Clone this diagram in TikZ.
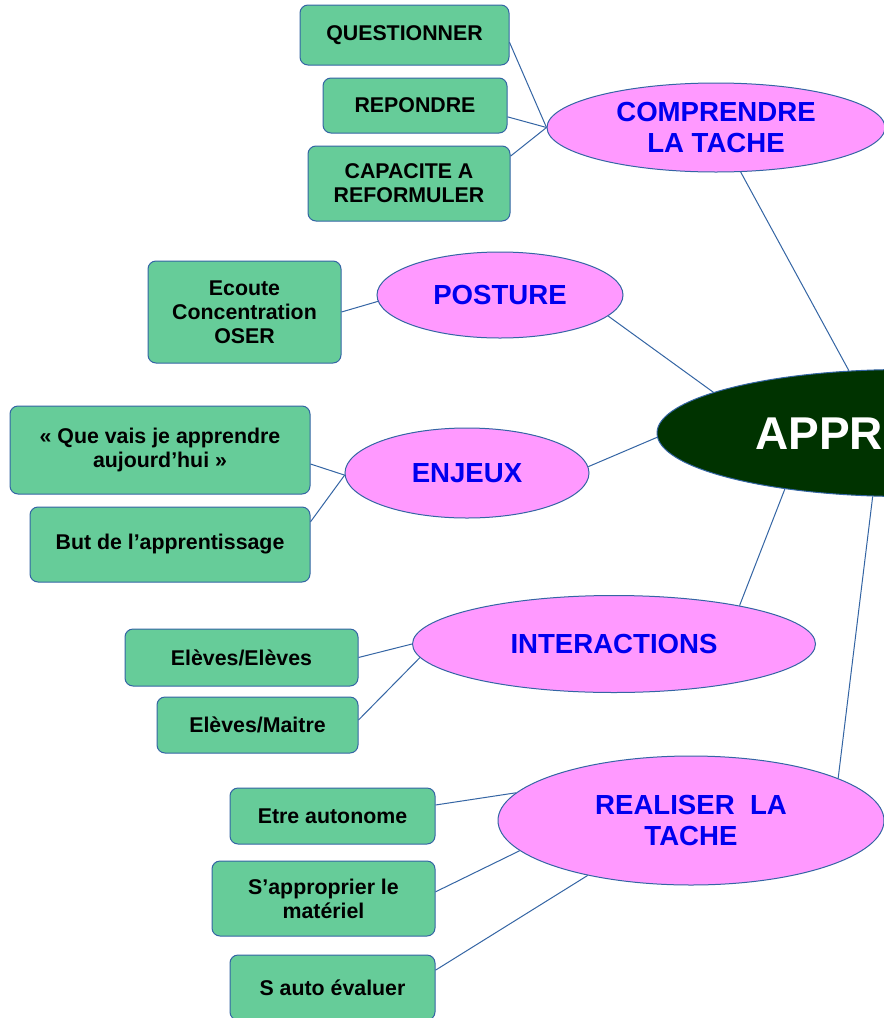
\documentclass[tikz,border=0pt]{standalone}
\usepackage{fontspec}
\setmainfont{Liberation Sans}
\usetikzlibrary{shapes.geometric,calc}
\definecolor{linec}{HTML}{3465A4}
\definecolor{boxg}{HTML}{66CC99}
\definecolor{pinkf}{HTML}{FF99FF}
\definecolor{txtblue}{HTML}{0000EE}
\definecolor{darkg}{HTML}{003300}
\tikzset{
  greenbox/.style={draw=linec, fill=boxg, rounded corners=6pt, line width=0.75pt, align=center,
    inner sep=0pt, font=\bfseries\fontsize{16}{18}\selectfont},
  pinkell/.style={ellipse, draw=linec, fill=pinkf, line width=0.75pt, align=center, inner sep=0pt,
    text=txtblue, font=\bfseries\fontsize{20.7}{23}\selectfont},
  centreell/.style={ellipse, draw=linec, fill=darkg, line width=0.75pt, inner sep=0pt},
  centretext/.style={text=white, inner sep=0pt, font=\bfseries\fontsize{34.5}{40}\selectfont},
  conn/.style={draw=linec, line width=0.75pt}
}
\begin{document}
\begin{tikzpicture}[x=0.75pt, y=-0.75pt]
\useasboundingbox (0,0) rectangle (884,1018);
\clip (0,0) rectangle (884,1018);
\fill[white] (0,0) rectangle (884,1018);

% central
\node[centreell, minimum width=496*0.75pt, minimum height=127*0.75pt] (cen) at (905,433) {};
\node[centretext, anchor=west] (cent) at (755,434) {APPR};

% pink ellipses
\node[pinkell, minimum width=338*0.75pt, minimum height=89*0.75pt] (comp) at (716,127.5) {COMPRENDRE\\LA TACHE};
\node[pinkell, minimum width=246*0.75pt, minimum height=86*0.75pt] (post) at (500,295) {POSTURE};
\node[pinkell, minimum width=244*0.75pt, minimum height=90*0.75pt] (enj) at (467,473) {ENJEUX};
\node[pinkell, minimum width=403*0.75pt, minimum height=97*0.75pt] (inter) at (614,644) {INTERACTIONS};
\node[pinkell, minimum width=386*0.75pt, minimum height=129*0.75pt] (real) at (691,820.5) {REALISER\ \ LA\\TACHE};

% green boxes
\node[greenbox, minimum width=209*0.75pt, minimum height=60*0.75pt] (quest) at (404.5,35) {QUESTIONNER};
\node[greenbox, minimum width=184*0.75pt, minimum height=55*0.75pt] (rep) at (415,105.5) {REPONDRE};
\node[greenbox, minimum width=202*0.75pt, minimum height=75*0.75pt] (capa) at (409,183.5) {CAPACITE A\\REFORMULER};
\node[greenbox, minimum width=193*0.75pt, minimum height=102*0.75pt] (ecou) at (244.5,312) {Ecoute\\Concentration\\OSER};
\node[greenbox, minimum width=300*0.75pt, minimum height=88*0.75pt] (que) at (160,450) {« Que vais je apprendre\\aujourd’hui »};
\node[greenbox, minimum width=280*0.75pt, minimum height=75*0.75pt] (but) at (170,544.5) {But de l’apprentissage};
\node[greenbox, minimum width=233*0.75pt, minimum height=57*0.75pt] (ee) at (241.5,657.5) {Elèves/Elèves};
\node[greenbox, minimum width=201*0.75pt, minimum height=56*0.75pt] (em) at (257.5,725) {Elèves/Maitre};
\node[greenbox, minimum width=205*0.75pt, minimum height=56*0.75pt] (auto) at (332.5,816) {Etre autonome};
\node[greenbox, minimum width=223*0.75pt, minimum height=75*0.75pt] (appr) at (323.5,898.5) {S’approprier le\\matériel};
\node[greenbox, minimum width=205*0.75pt, minimum height=65*0.75pt] (eval) at (332.5,987.5) {S auto évaluer};

% connectors
\draw[conn] ([yshift=-5.5pt]quest.east) -- (comp.west);
\draw[conn] ([yshift=-8.5pt]rep.east) -- (comp.west);
\draw[conn] ([yshift=-8pt]capa.north east) -- (comp.west);
\draw[conn] (comp.299) -- (cen.132.5);
\draw[conn] (ecou.east) -- (post.183);
\draw[conn] (post.349) -- (cen.168.4);
\draw[conn] ([yshift=-10.5pt]que.east) -- (enj.181);
\draw[conn] ([yshift=17pt]but.east) -- (enj.181);
\draw[conn] (enj.3.3) -- (cen.181.6);
\draw[conn] (inter.17.9) -- (cen.205.2);
\draw[conn] (ee.east) -- (inter.west);
\draw[conn] ([yshift=3.75pt]em.east) -- (inter.184.7);
\draw[conn] (real.16.3) -- (cen.243.4);
\draw[conn] ([yshift=8.25pt]auto.east) -- (real.171.5);
\draw[conn] ([yshift=5pt]appr.east) -- (real.190.1);
\draw[conn] ([yshift=13pt]eval.east) -- (real.208.4);
\end{tikzpicture}
\end{document}
